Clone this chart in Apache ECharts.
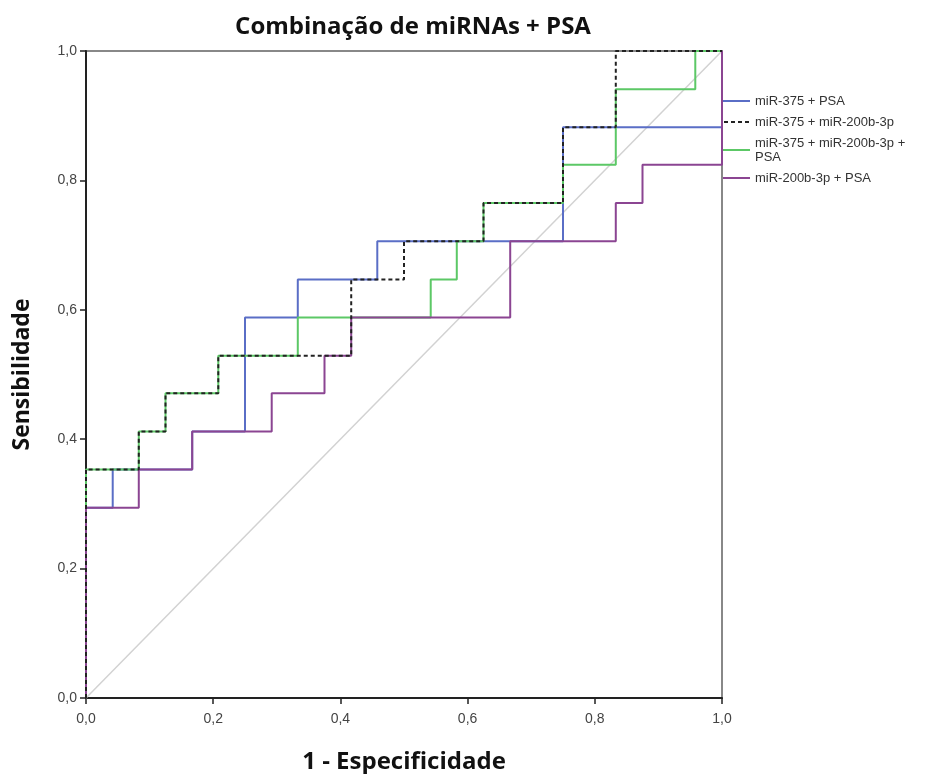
<!DOCTYPE html>
<html>
<head>
<meta charset="utf-8">
<script src="https://cdn.jsdelivr.net/npm/echarts@6/dist/echarts.min.js"></script>
<style>
html, body { margin: 0; padding: 0; background: #fff; }
#rocChart { width: 935px; height: 774px; }
</style>
</head>
<body>
<div id="rocChart"></div>
<script>
// curvas ROC - pontos (1 - especificidade, sensibilidade)
const seriesNames = [
    'miR-375 + PSA',
    'miR-375 + miR-200b-3p',
    'miR-375 + miR-200b-3p +\nPSA',
    'miR-200b-3p + PSA'
];
const axisTicks = [0, 0.2, 0.4, 0.6, 0.8, 1.0];

const fpr375Psa = [0, 0, 0.042, 0.042, 0.167, 0.167, 0.25, 0.25, 0.333, 0.333, 0.458, 0.458, 0.75, 0.75, 1.0, 1.0];
const tpr375Psa = [0, 0.294, 0.294, 0.353, 0.353, 0.412, 0.412, 0.588, 0.588, 0.647, 0.647, 0.706, 0.706, 0.882, 0.882, 1.0];

const fpr375_200b = [0, 0, 0.083, 0.083, 0.125, 0.125, 0.208, 0.208, 0.417, 0.417, 0.5, 0.5, 0.625, 0.625, 0.75, 0.75, 0.833, 0.833, 1.0];
const tpr375_200b = [0, 0.353, 0.353, 0.412, 0.412, 0.471, 0.471, 0.529, 0.529, 0.647, 0.647, 0.706, 0.706, 0.765, 0.765, 0.882, 0.882, 1.0, 1.0];

const fprAll = [0, 0, 0.083, 0.083, 0.125, 0.125, 0.208, 0.208, 0.333, 0.333, 0.542, 0.542, 0.583, 0.583, 0.625, 0.625, 0.75, 0.75, 0.833, 0.833, 0.958, 0.958, 1.0];
const tprAll = [0, 0.353, 0.353, 0.412, 0.412, 0.471, 0.471, 0.529, 0.529, 0.588, 0.588, 0.647, 0.647, 0.706, 0.706, 0.765, 0.765, 0.824, 0.824, 0.941, 0.941, 1.0, 1.0];

const fpr200bPsa = [0, 0, 0.083, 0.083, 0.167, 0.167, 0.292, 0.292, 0.375, 0.375, 0.417, 0.417, 0.667, 0.667, 0.833, 0.833, 0.875, 0.875, 1.0, 1.0];
const tpr200bPsa = [0, 0.294, 0.294, 0.353, 0.353, 0.412, 0.412, 0.471, 0.471, 0.529, 0.529, 0.588, 0.588, 0.706, 0.706, 0.765, 0.765, 0.824, 0.824, 1.0];

const diagonal = [0, 1];

function pairs(xs, ys) {
    return xs.map(function (x, i) { return [x, ys[i]]; });
}
function fmt(v) {
    return v.toFixed(1).replace('.', ',');
}

// icones da legenda: traço contínuo e tracejado
const solidIcon = 'path://M0,0H27V2H0Z';
const dashIcon = 'path://M0,0H4V2H0ZM7,0H11V2H7ZM14,0H18V2H14ZM21,0H25V2H21Z';

const myChart = echarts.init(document.getElementById('rocChart'));
const axisLabelStyle = {
    color: '#444',
    fontSize: 14,
    margin: 14,
    fontFamily: '"Liberation Sans Narrow", "Liberation Sans", sans-serif',
    formatter: fmt
};
const nameStyle = {
    fontFamily: '"Open Sans", sans-serif',
    fontWeight: 'bold',
    fontSize: 24,
    color: '#111'
};
const option = {
    animation: false,
    backgroundColor: '#fff',
    title: {
        text: 'Combinação de miRNAs + PSA',
        left: 408,
        textAlign: 'center',
        top: 10,
        textStyle: nameStyle
    },
    legend: {
        orient: 'vertical',
        left: 718,
        top: 89,
        itemWidth: 27,
        itemHeight: 2,
        itemGap: 7,
        data: seriesNames.map(function (n, i) {
            return { name: n, icon: i === 1 ? dashIcon : solidIcon };
        }),
        textStyle: {
            fontFamily: '"Liberation Sans", Arial, sans-serif',
            fontSize: 13,
            lineHeight: 14,
            color: '#333'
        }
    },
    grid: {
        left: 86,
        right: 213,
        top: 51,
        bottom: 76,
        outerBoundsMode: 'none',
        show: true,
        borderColor: '#888',
        borderWidth: 2
    },
    xAxis: {
        type: 'value',
        min: 0,
        max: 1,
        interval: 0.2,
        name: '1 - Especificidade',
        nameLocation: 'middle',
        nameGap: 52,
        nameTextStyle: nameStyle,
        axisLine: { lineStyle: { color: '#222', width: 2 } },
        axisTick: { length: 6, lineStyle: { color: '#222', width: 1.5 } },
        axisLabel: axisLabelStyle,
        splitLine: { show: false }
    },
    yAxis: {
        type: 'value',
        min: 0,
        max: 1,
        interval: 0.2,
        name: 'Sensibilidade',
        nameLocation: 'middle',
        nameGap: 52,
        nameTextStyle: Object.assign({}, nameStyle, { fontSize: 23 }),
        axisLine: { show: true, lineStyle: { color: '#222', width: 2 } },
        axisTick: { show: true, length: 6, lineStyle: { color: '#222', width: 1.5 } },
        axisLabel: Object.assign({}, axisLabelStyle, { margin: 9 }),
        splitLine: { show: false }
    },
    series: [
        {
            name: seriesNames[0],
            type: 'line',
            symbol: 'none',
            z: 2,
            lineStyle: { color: '#5a6ec6', width: 2 },
            itemStyle: { color: '#5a6ec6' },
            data: pairs(fpr375Psa, tpr375Psa)
        },
        {
            name: seriesNames[1],
            type: 'line',
            symbol: 'none',
            z: 5,
            lineStyle: { color: '#222', width: 2, type: [4, 3] },
            itemStyle: { color: '#222' },
            data: pairs(fpr375_200b, tpr375_200b)
        },
        {
            name: seriesNames[2],
            type: 'line',
            symbol: 'none',
            z: 3,
            lineStyle: { color: '#5cc866', width: 2 },
            itemStyle: { color: '#5cc866' },
            data: pairs(fprAll, tprAll)
        },
        {
            name: seriesNames[3],
            type: 'line',
            symbol: 'none',
            z: 4,
            lineStyle: { color: '#8b4592', width: 2 },
            itemStyle: { color: '#8b4592' },
            data: pairs(fpr200bPsa, tpr200bPsa)
        },
        {
            name: 'referência',
            type: 'line',
            symbol: 'none',
            z: 1,
            silent: true,
            lineStyle: { color: '#d2d2d2', width: 1.5 },
            data: pairs(diagonal, diagonal)
        }
    ]
};
myChart.setOption(option);
</script>
</body>
</html>
